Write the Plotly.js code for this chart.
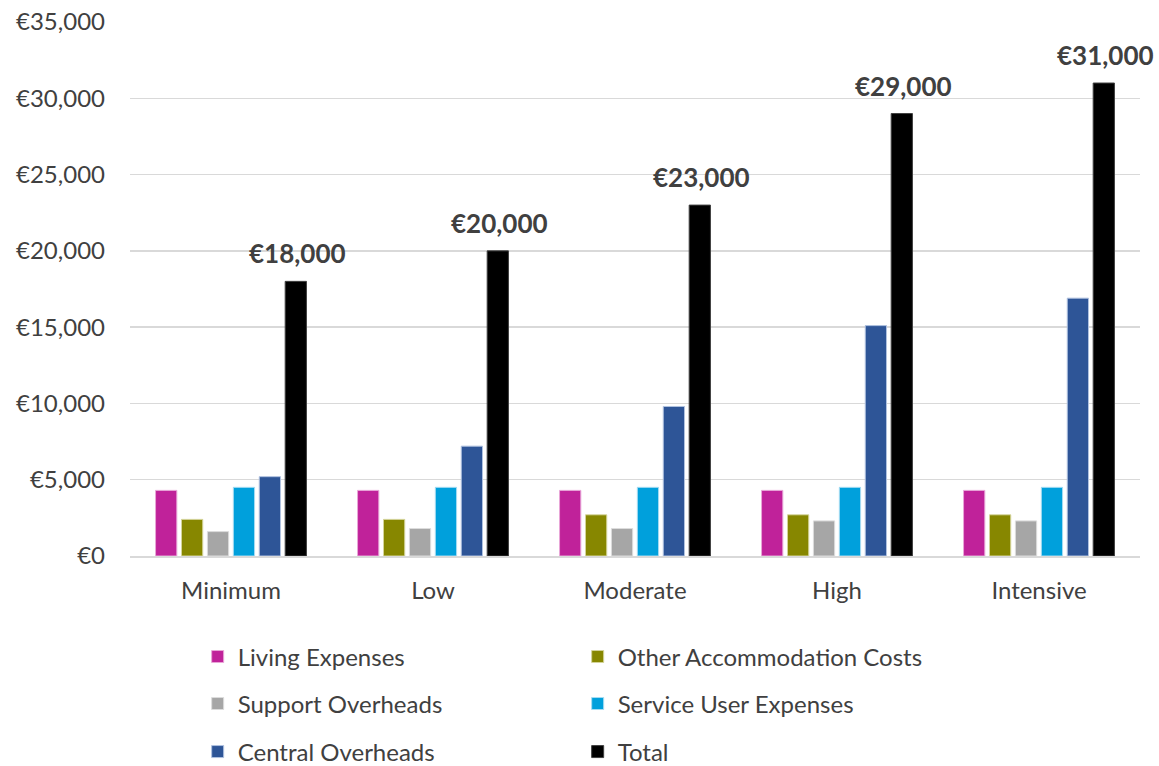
<!DOCTYPE html>
<html><head><meta charset="utf-8">
<script src="https://cdn.plot.ly/plotly-3.0.1.min.js"></script>
<style>body{margin:0;background:#fff}#chart{width:1159px;height:766px}</style>
</head><body><div id="chart"></div>
<script>
const categories = ["Minimum", "Low", "Moderate", "High", "Intensive"];
const livingExpenses = [4300, 4300, 4300, 4300, 4300];
const otherAccommodation = [2400, 2400, 2700, 2700, 2700];
const supportOverheads = [1600, 1800, 1800, 2300, 2300];
const serviceUserExpenses = [4500, 4500, 4500, 4500, 4500];
const centralOverheads = [5200, 7200, 9800, 15100, 16900];
const total = [18000, 20000, 23000, 29000, 31000];
const yTicks = [0, 5000, 10000, 15000, 20000, 25000, 30000, 35000];
const yTickLabels = ["€0", "€5,000", "€10,000", "€15,000", "€20,000", "€25,000", "€30,000", "€35,000"];

const seriesNames = ["Living Expenses", "Other Accommodation Costs", "Support Overheads", "Service User Expenses", "Central Overheads", "Total"];
const seriesValues = [livingExpenses, otherAccommodation, supportOverheads, serviceUserExpenses, centralOverheads, total];
const colors = ["#c0229a", "#878700", "#a6a6a6", "#00a0dc", "#2e5597", "#000000"];
const lineColors = ["#e8a6d8", "#d4d49a", "#dcdcdc", "#a6dcf2", "#b0c2e0", "#404040"];
const legendIds = ["legend", "legend", "legend2", "legend2", "legend3", "legend3"];
const FONT = "Lato, 'Open Sans', sans-serif";

const traces = seriesNames.map((n, i) => ({
  type: "bar", name: n, x: categories, y: seriesValues[i], legend: legendIds[i],
  marker: {color: colors[i], line: {color: lineColors[i], width: 1}},
  hoverinfo: "none"
}));

const annotations = categories.map((c, i) => ({
  x: c, y: total[i], xref: "x", yref: "y",
  text: "<b>€" + total[i].toLocaleString("en-US") + "</b>",
  showarrow: false, xanchor: "center", yanchor: "bottom", xshift: 66, yshift: 10,
  font: {family: FONT, size: 26, color: "#404040"}
}));

const legendBase = {orientation: "h", x: 0.067, xanchor: "left", yanchor: "middle", entrywidth: 335, entrywidthmode: "pixels",
  font: {size: 24, color: "#404040"}, itemwidth: 30, traceorder: "normal", bgcolor: "rgba(0,0,0,0)"};

const layout = {
  width: 1159, height: 766,
  margin: {l: 130, r: 19, t: 22, b: 210, autoexpand: false},
  paper_bgcolor: "#fff", plot_bgcolor: "#fff",
  font: {family: FONT, size: 21, color: "#404040"},
  barmode: "group", bargap: 0.23, bargroupgap: 0.18,
  showlegend: true,
  annotations: annotations,
  xaxis: {range: [-0.5, 4.5], autorange: false, tickfont: {size: 24, color: "#404040"}, showline: true, linecolor: "#d9d9d9", linewidth: 1.5, ticks: "", ticklabelstandoff: 13},
  yaxis: {range: [0, 35000], tickvals: yTicks, ticktext: yTickLabels, tickfont: {size: 24, color: "#404040"},
          showgrid: true, gridcolor: "#d9d9d9", gridwidth: 1.5, zeroline: false, ticks: "", ticklabelstandoff: 24},
  legend: Object.assign({}, legendBase, {y: -0.189}),
  legend2: Object.assign({}, legendBase, {y: -0.277}),
  legend3: Object.assign({}, legendBase, {y: -0.367})
};

Plotly.newPlot("chart", traces, layout, {displayModeBar: false, staticPlot: true});
</script></body></html>
